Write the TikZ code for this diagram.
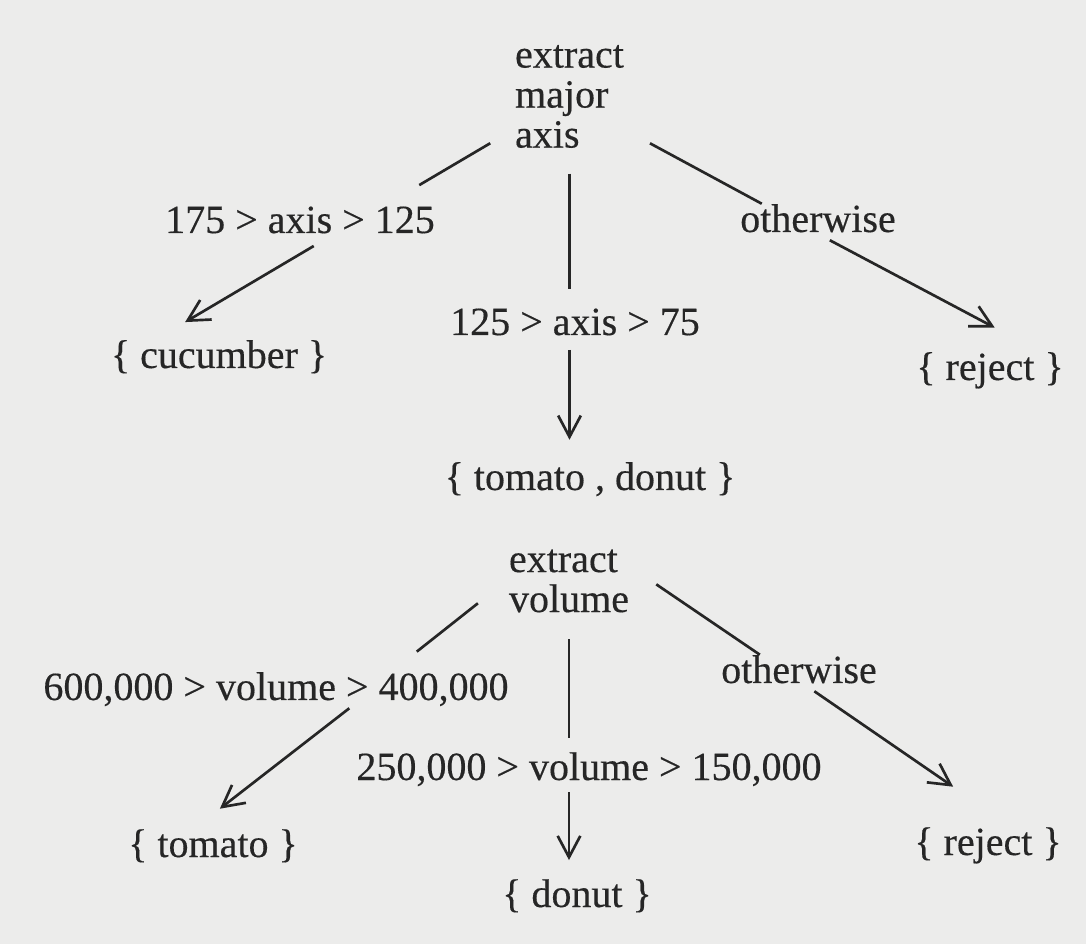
\documentclass[tikz,border=0pt]{standalone}
\usepackage{fontspec}
\setmainfont[FakeBold=0.35]{Liberation Serif}
\usetikzlibrary{arrows.meta}
\definecolor{paper}{RGB}{236,236,235}
\definecolor{ink}{RGB}{38,38,38}
\begin{document}
\begin{tikzpicture}[x=0.75pt,y=-0.75pt,
  lab/.style={font=\fontsize{30}{30}\selectfont, text=ink, inner sep=0pt,
              text height=21pt, text depth=6pt, anchor=base},
  head/.style={font=\fontsize{30}{30}\selectfont, text=ink, inner sep=0pt, align=left},
  stem/.style={draw=ink, line width=2pt},
  arr/.style={stem, -{Straight Barb[length=16pt,width=17pt]}}]
\fill[paper] (0,0) rectangle (1086,944);
\useasboundingbox (0,0) rectangle (1086,944);

% first test: major axis
\node[head] (axisq) at (569.5,96.5) {extract\\major\\axis};
\node[lab] (c1) at (300,233) {175 > axis > 125};
\node[lab] (c2) at (575,335) {125 > axis > 75};
\node[lab] (c3) at (818,232) {otherwise};
\node[lab] (cuc) at (219,368) {\{ cucumber \}};
\node[lab] (tomdon) at (590,490) {\{ tomato , donut \}};
\node[lab] (rej1) at (990,380) {\{ reject \}};

% second test: volume
\node[head] (volq) at (569,581) {extract\\volume};
\node[lab] (v1) at (276,700) {600,000 > volume > 400,000};
\node[lab] (v2) at (589,780) {250,000 > volume > 150,000};
\node[lab] (v3) at (799,683) {otherwise};
\node[lab] (tom) at (213,857) {\{ tomato \}};
\node[lab] (don) at (577,907) {\{ donut \}};
\node[lab] (rej2) at (988,855) {\{ reject \}};

% branches of the first test
\draw[stem, shorten <=69pt, shorten >=29pt] (axisq.center) -- (c1.12);
\draw[arr, shorten <=7pt, shorten >=26pt] (c1.-40.6) -- (cuc.164.1);
\draw[stem, shorten <=19pt, shorten >=13.5pt] (axisq.south) -- (axisq.south |- c2.north);
\draw[arr, shorten <=5pt, shorten >=16.5pt] (c2.south -| axisq.south) -- (tomdon.north -| axisq.south);
\draw[stem, shorten <=22pt] (axisq.-31.6) -- (c3.162.5);
\draw[arr, shorten >=38.6pt] (c3.-57.4) -- (rej1.20.3);

% branches of the second test
\draw[stem, shorten <=29.5pt, shorten >=24.3pt] (volq.178) -- (v1.9.2);
\draw[arr, shorten >=24.5pt] (v1.-14.4) -- (tom.136.1);
\draw[stem, shorten <=20pt, shorten >=10pt] (volq.south) -- (volq.south |- v2.north);
\draw[arr, shorten <=3pt, shorten >=14pt] (v2.south -| volq.south) -- (don.north -| volq.south);
\draw[stem, shorten <=24.5pt] (volq.14.3) -- (v3.155);
\draw[arr, shorten >=53pt] (v3.-50.2) -- (rej2.38.4);
\end{tikzpicture}
\end{document}
